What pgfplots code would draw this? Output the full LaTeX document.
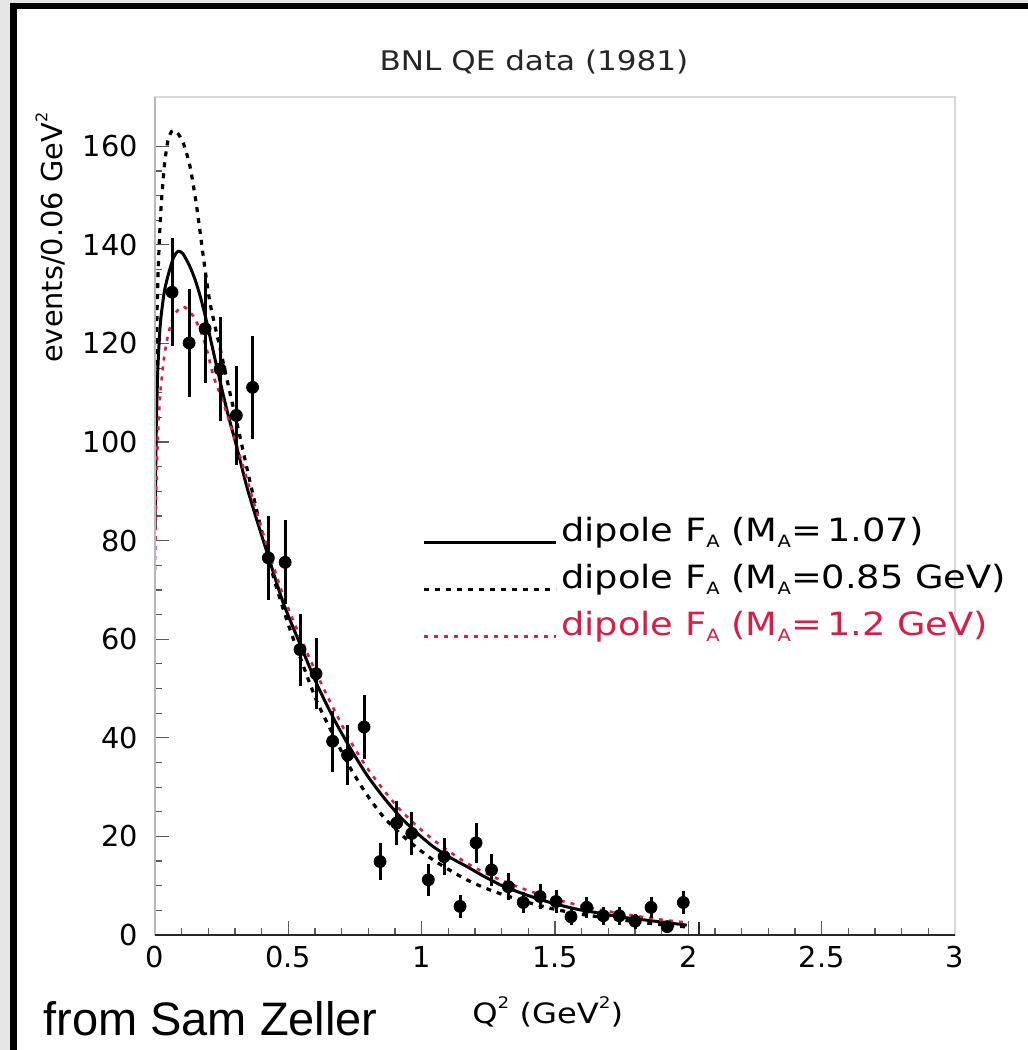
\documentclass[border=0pt]{standalone}
\usepackage{fontspec}
\setmainfont{DejaVu Sans}
\newfontfamily\rootwide[FakeStretch=1.15]{DejaVu Sans}
\newfontfamily\arialfont{Liberation Sans}
\usepackage{pgfplots}
\pgfplotsset{compat=1.18}
\definecolor{dipred}{RGB}{214,30,70}
\definecolor{framegray}{RGB}{230,230,230}
\newcommand\lsub[1]{\raisebox{-0.3ex}{\fontsize{8.5}{9}\selectfont #1}}
\newcommand\tsup[1]{\raisebox{0.95ex}{\fontsize{8}{9}\selectfont #1}}

\pgfplotstableread{
x y e
0.064 130.4 11
0.128 120.1 11
0.188 123.0 11
0.244 114.8 10.5
0.305 105.4 10
0.366 111.1 10.5
0.425 76.5 8.6
0.488 75.6 8.5
0.544 57.9 7.3
0.604 53.0 7.2
0.666 39.3 6.2
0.722 36.5 6.0
0.784 42.2 6.5
0.844 14.9 3.8
0.906 22.7 4.5
0.963 20.6 4.4
1.025 11.2 3.2
1.084 15.9 3.8
1.144 5.8 2.3
1.204 18.7 4.0
1.262 13.2 3.3
1.325 9.8 2.7
1.381 6.6 2.2
1.444 7.8 2.6
1.504 6.8 2.4
1.560 3.7 1.7
1.619 5.6 2.2
1.681 3.9 1.8
1.741 3.9 1.8
1.800 2.8 1.5
1.860 5.6 2.2
1.921 1.7 1.2
1.981 6.6 2.3
}\datatable

\begin{document}
\begin{tikzpicture}
\fill[framegray] (0pt,0pt) rectangle (514pt,525pt);
\fill[white] (8.5pt,0pt) rectangle (514pt,520.5pt);
\fill[black] (5pt,0pt) rectangle (8.5pt,523.5pt);
\fill[black] (5pt,520.5pt) rectangle (514pt,523.5pt);
\begin{axis}[
  at={(77.5pt,57.5pt)}, anchor=south west,
  scale only axis, width=400pt, height=419pt,
  xmin=0, xmax=3, ymin=0, ymax=170,
  xtick={0,0.5,...,3}, ytick={0,20,...,160},
  minor x tick num=4, minor y tick num=3,
  tick align=inside, tick pos=left,
  major tick length=7pt, minor tick length=3.5pt,
  tick style={gray!70!black, line width=0.6pt},
  axis line style={gray!30, line width=0.8pt},
  /pgf/number format/assume math mode=true,
  xticklabel style={font=\fontsize{14.4}{16}\selectfont, yshift=-2pt},
  yticklabel style={font=\fontsize{14.4}{16}\selectfont, xshift=-5pt},
  xlabel={Q\tsup{2} (GeV\tsup{2})},
  xlabel style={font=\rootwide\fontsize{14}{16}\selectfont, at={(axis description cs:0.491,-0.0919)}, anchor=center},
  ylabel={events/0.06 GeV\tsup{2}},
  ylabel style={font=\fontsize{14.4}{16}\selectfont, at={(axis description cs:-0.131,0.832)}, anchor=center},
  legend style={draw=none, fill=none, inner sep=0pt, at={(axis cs:1.0,84.9)}, anchor=north west,
    font=\rootwide\fontsize{16}{19}\selectfont,
    nodes={inner sep=0pt, text height=12.5pt, text depth=4pt}, row sep=7pt, column sep=2pt},
  legend cell align=left,
  legend image code/.code={\draw[#1] (0pt,-4.5pt) -- (66pt,-4.5pt);},
  after end axis/.code={
    \draw[gray!55, line width=0.8pt] (rel axis cs:0,1) -- (rel axis cs:0,0);
    \draw[gray!30!black, line width=1.2pt] (rel axis cs:0,0) -- (rel axis cs:1,0);
  },
]
\addplot[black, line width=1.5pt, smooth, tension=0.4] coordinates {
(0,83) (0.004,100) (0.01,114) (0.02,124) (0.035,130.5) (0.05,134) (0.07,137.5) (0.087,138.7) (0.105,138.2) (0.13,135.7) (0.15,133) (0.17,129.5) (0.194,124.3) (0.231,115.4) (0.269,106.6) (0.306,99.1) (0.344,91) (0.38,84.5) (0.425,76.8) (0.48,67.5) (0.544,59) (0.606,51) (0.669,44) (0.731,38) (0.794,32.5) (0.856,28) (0.919,24) (0.98,20.8) (1.044,17.9) (1.107,15.7) (1.169,13.9) (1.23,12) (1.294,10.2) (1.344,9.1) (1.4,8) (1.469,6.8) (1.53,5.9) (1.594,5.1) (1.66,4.5) (1.719,3.9) (1.78,3.4) (1.844,3.0) (1.92,2.5) (1.994,2.0)
};
\addlegendentry{dipole F\lsub{A} (M\lsub{A}=\,1.07)}
\addplot[black, line width=1.6pt, dash pattern=on 2.5pt off 3pt, smooth, tension=0.4] coordinates {
(0,100) (0.005,120) (0.012,135) (0.022,147) (0.035,156) (0.048,161) (0.062,163) (0.08,163) (0.105,160.8) (0.131,156) (0.156,147.9) (0.181,137.7) (0.206,128.3) (0.244,119) (0.281,110) (0.319,101) (0.356,92) (0.4,82) (0.45,71.5) (0.506,62) (0.55,55.5) (0.606,47.5) (0.669,40.5) (0.731,34) (0.794,28.5) (0.856,24) (0.919,20.6) (0.98,17.8) (1.044,15.2) (1.107,13.1) (1.169,11.2) (1.23,9.7) (1.294,8.4) (1.4,6.6) (1.5,5.2) (1.6,4.2) (1.7,3.4) (1.8,2.7) (1.9,2.1) (2.0,1.6)
};
\addlegendentry{dipole F\lsub{A} (M\lsub{A}=0.85 GeV)}
\addplot[dipred, line width=1.3pt, dash pattern=on 2pt off 3pt, smooth, tension=0.4] coordinates {
(0,74) (0.004,88) (0.01,100) (0.02,110) (0.035,117.5) (0.05,122) (0.069,125.5) (0.09,127) (0.106,127.5) (0.125,126.8) (0.144,125.5) (0.169,122.8) (0.194,118.8) (0.219,113.4) (0.256,108) (0.294,101.5) (0.331,95) (0.38,86) (0.425,78) (0.48,69) (0.544,60.5) (0.606,53) (0.669,46) (0.731,39.5) (0.794,34) (0.856,29.5) (0.919,25.4) (0.98,22.2) (1.044,19.3) (1.107,16.8) (1.169,14.6) (1.23,12.8) (1.294,11.2) (1.4,9) (1.5,7.3) (1.6,5.9) (1.7,4.8) (1.8,3.9) (1.9,3.1) (2.0,2.5)
};
\addlegendentry{\textcolor{dipred}{dipole F\lsub{A} (M\lsub{A}=\,1.2 GeV)}}
\addplot[forget plot, only marks, mark=*, mark size=3pt, black,
  error bars/.cd, y dir=both, y explicit, error mark=none,
  error bar style={line width=1.5pt, black}]
  table[x=x, y=y, y error=e] {\datatable};
\addplot[forget plot, gray!30!black, line width=1pt] coordinates {(2.04,0) (2.04,2.6)};
\end{axis}
\node[font=\rootwide\fontsize{13.5}{16}\selectfont, text=black!85] at (267pt,494pt) {BNL QE data (1981)};
\node[anchor=base west, font=\arialfont\fontsize{23.5}{28}\selectfont, inner sep=0pt] at (21.5pt,7.5pt) {from Sam Zeller};
\end{tikzpicture}
\end{document}
